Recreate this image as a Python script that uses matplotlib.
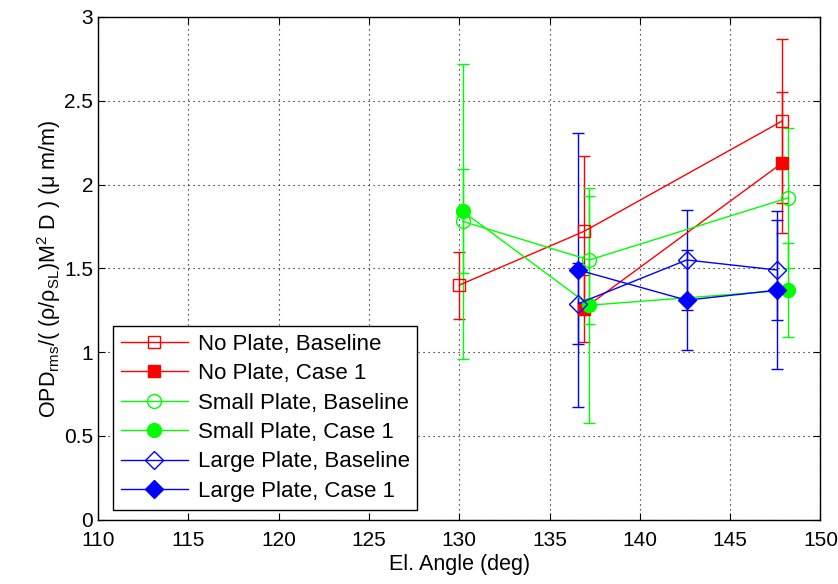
import numpy as np
import matplotlib.pyplot as plt
from matplotlib.lines import Line2D

plt.rcParams['font.family'] = ['Liberation Sans', 'DejaVu Sans']
plt.rcParams['mathtext.fontset'] = 'custom'
plt.rcParams['mathtext.rm'] = 'Liberation Sans'
plt.rcParams['mathtext.default'] = 'regular'

# Data
np_x = [130.0, 136.9, 147.9]
np_base = [1.40, 1.72, 2.38]
np_base_err = [0.20, 0.45, 0.49]
np_case_x = [136.9, 147.9]
np_case_y = [1.26, 2.13]
np_case_err = [0.20, 0.42]

sp_x = [130.2, 137.2, 148.2]
sp_base = [1.78, 1.55, 1.92]
sp_base_err = [0.31, 0.38, 0.42]
sp_case = [1.84, 1.28, 1.37]
sp_case_err = [0.88, 0.70, 0.28]

lp_x = [136.6, 142.6, 147.6]
lp_base = [1.29, 1.55, 1.49]
lp_base_err = [0.24, 0.30, 0.30]
lp_case = [1.49, 1.31, 1.37]
lp_case_err = [0.82, 0.30, 0.47]

labels = ['No Plate, Baseline', 'No Plate, Case 1',
          'Small Plate, Baseline', 'Small Plate, Case 1',
          'Large Plate, Baseline', 'Large Plate, Case 1']

red = (1, 0, 0)
green = (0, 1, 0)
blue = (0, 0, 1)

fig = plt.figure(figsize=(8.38, 5.84), dpi=100)
ax = fig.add_axes([0.117, 0.110, 0.862, 0.861])

common = dict(linewidth=1, elinewidth=1, capsize=4, capthick=1)

series = [
    (np_x, np_base, np_base_err, red, 's', 8, False),
    (np_case_x, np_case_y, np_case_err, red, 's', 8, True),
    (sp_x, sp_base, sp_base_err, green, 'o', 10, False),
    (sp_x, sp_case, sp_case_err, green, 'o', 10, True),
    (lp_x, lp_base, lp_base_err, blue, 'D', 9, False),
    (lp_x, lp_case, lp_case_err, blue, 'D', 9, True),
]

handles = []
for (x, y, e, c, m, ms, filled), lab in zip(series, labels):
    fc = c if filled else 'none'
    ax.errorbar(x, y, yerr=e, color=c, marker=m, markersize=ms,
                markerfacecolor=fc, markeredgecolor=c, **common)
    handles.append(Line2D([], [], color=c, marker=m, markersize=ms,
                          markerfacecolor=fc, markeredgecolor=c, linewidth=1, label=lab))

ax.set_xlim(110, 150)
ax.set_ylim(0, 3)
ax.set_xticks(np.arange(110, 151, 5))
ax.set_yticks([0, 0.5, 1, 1.5, 2, 2.5, 3])
ax.set_yticklabels(['0', '0.5', '1', '1.5', '2', '2.5', '3'])
ax.tick_params(direction='in', top=True, right=True, labelsize=15, length=5)
ax.tick_params(axis='x', pad=8)
ax.grid(True, color='black', linestyle=(0, (1, 3.5)), linewidth=0.8)
for s in ax.spines.values():
    s.set_linewidth(1)

ax.set_xlabel('El. Angle (deg)', fontsize=15.5, labelpad=3)
ax.set_ylabel(r'OPD$_{rms}$/( (ρ/ρ$_{SL}$)M$^2$ D ) (μ m/m)', fontsize=15.5, labelpad=1)

leg = ax.legend(handles=handles, loc='lower left', bbox_to_anchor=(0.021, 0.02),
                fontsize=16, fancybox=False, edgecolor='black', framealpha=1,
                handlelength=3.0, borderaxespad=0, labelspacing=0.38,
                handletextpad=0.45, borderpad=0.35)
leg.get_frame().set_linewidth(1)

fig.savefig('out.png', dpi=100)
